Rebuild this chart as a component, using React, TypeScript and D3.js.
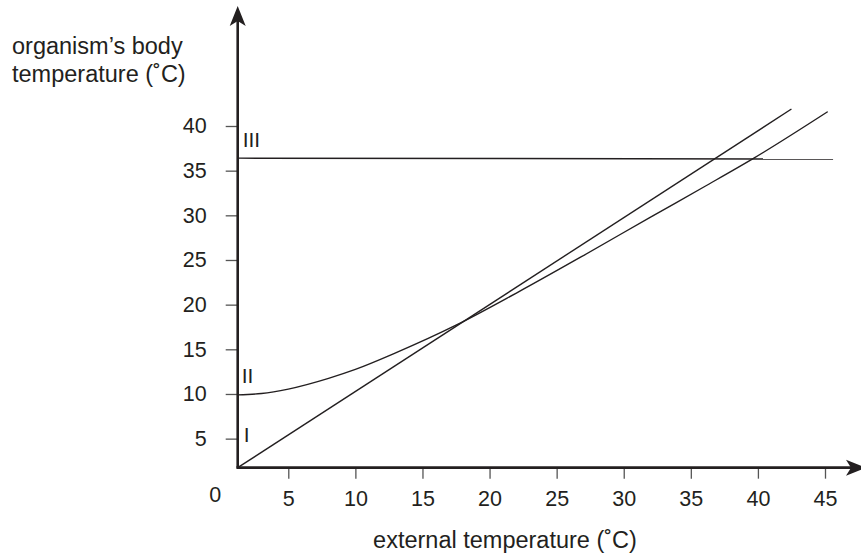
import React, { useRef, useEffect } from "react";
import { select, scaleLinear, line, curveMonotoneX, axisBottom, axisLeft } from "d3";

const WIDTH = 861;
const HEIGHT = 558;

const X_TICKS = [5, 10, 15, 20, 25, 30, 35, 40, 45];
const Y_TICKS = [5, 10, 15, 20, 25, 30, 35, 40];

// curve I : body temp follows the outside
const LINE_I_X = [1.23, 42.5];
const LINE_I_Y = [1.75, 41.9];

// curve II
const LINE_II_X = [1.23, 3, 5, 8, 10, 13, 17.5, 22, 27, 32, 36, 39.7, 45.2];
const LINE_II_Y = [9.9, 10.05, 10.55, 11.75, 12.75, 14.6, 17.7, 21.3, 25.5, 29.8, 33.2, 36.4, 41.6];

// curve III : constant body temp
const LINE_III_X = [1.23, 45.6];
const LINE_III_Y = [36.4, 36.3];

const SERIES = [
  { name: "I", xs: LINE_I_X, ys: LINE_I_Y },
  { name: "II", xs: LINE_II_X, ys: LINE_II_Y },
  { name: "III", xs: LINE_III_X, ys: LINE_III_Y },
];

// where the axes cross, in data units
const ORIGIN = { x: 1.23, y: 1.75 };

const INK = "#231f20";
const FONT = "'Liberation Sans', Arial, Helvetica, sans-serif";

export default function App() {
  const ref = useRef<SVGSVGElement>(null);

  useEffect(() => {
    const svg = select(ref.current);
    svg.selectAll("*").remove();

    const x = scaleLinear().domain([0, 45]).range([221.2, 825]);
    const y = scaleLinear().domain([0, 40]).range([483.3, 126]);

    const ox = x(ORIGIN.x);
    const oy = y(ORIGIN.y);

    // tick marks + labels
    const xAxis = svg
      .append("g")
      .attr("transform", `translate(0,${oy})`)
      .call(axisBottom(x).tickValues(X_TICKS).tickSize(11).tickPadding(8));
    const yAxis = svg
      .append("g")
      .attr("transform", `translate(${ox},0)`)
      .call(axisLeft(y).tickValues(Y_TICKS).tickSize(12).tickPadding(19));

    [xAxis, yAxis].forEach((g) => {
      g.select(".domain").remove();
      g.selectAll(".tick line").attr("stroke", "#555").attr("stroke-width", 1.3);
      g.selectAll(".tick text")
        .attr("fill", INK)
        .style("font-family", FONT)
        .style("font-size", "21.5px");
    });
    xAxis.selectAll(".tick text").attr("dy", "0.9em");

    svg
      .append("text")
      .attr("x", x(0) - 6)
      .attr("y", oy + 34)
      .attr("text-anchor", "middle")
      .attr("fill", INK)
      .style("font-family", FONT)
      .style("font-size", "21.5px")
      .text("0");

    // data lines
    const path = line<[number, number]>()
      .x((d) => x(d[0]))
      .y((d) => y(d[1]))
      .curve(curveMonotoneX);

    SERIES.forEach((s) => {
      const pts = s.xs.map((v, i) => [v, s.ys[i]] as [number, number]);
      svg
        .append("path")
        .datum(pts)
        .attr("fill", "none")
        .attr("stroke", INK)
        .attr("stroke-width", 1.4)
        .attr("d", path);
    });

    // curve labels
    const labels = [
      { t: "I", v: 5.5, dx: 6 },
      { t: "II", v: 12.1, dx: 4 },
      { t: "III", v: 38.5, dx: 5 },
    ];
    labels.forEach((l) => {
      svg
        .append("text")
        .attr("x", ox + l.dx)
        .attr("y", y(l.v) + 8)
        .attr("fill", INK)
        .style("font-family", FONT)
        .style("font-size", "21px")
        .text(l.t);
    });

    // axes with arrowheads
    svg
      .append("line")
      .attr("x1", ox)
      .attr("y1", oy)
      .attr("x2", ox)
      .attr("y2", 20)
      .attr("stroke", INK)
      .attr("stroke-width", 2.6);
    svg
      .append("path")
      .attr("d", `M${ox},6 L${ox + 8},26 L${ox},21 L${ox - 8},26 Z`)
      .attr("fill", INK);

    svg
      .append("line")
      .attr("x1", ox - 1.3)
      .attr("y1", oy)
      .attr("x2", 852)
      .attr("y2", oy)
      .attr("stroke", INK)
      .attr("stroke-width", 2.6);
    svg
      .append("path")
      .attr("d", `M866,${oy} L846,${oy - 8} L851,${oy} L846,${oy + 8} Z`)
      .attr("fill", INK);

    // axis titles
    const yTitle = svg
      .append("text")
      .attr("fill", INK)
      .style("font-family", FONT)
      .style("font-size", "23.5px");
    yTitle.append("tspan").attr("x", 12).attr("y", 54).text("organism’s body");
    yTitle.append("tspan").attr("x", 12).attr("y", 82).text("temperature (˚C)");

    svg
      .append("text")
      .attr("x", 505)
      .attr("y", 548)
      .attr("text-anchor", "middle")
      .attr("fill", INK)
      .style("font-family", FONT)
      .style("font-size", "23.5px")
      .text("external temperature (˚C)");
  }, []);

  return (
    <svg
      ref={ref}
      width={WIDTH}
      height={HEIGHT}
      style={{ position: "absolute", left: 0, top: 0, background: "#fff" }}
    />
  );
}
